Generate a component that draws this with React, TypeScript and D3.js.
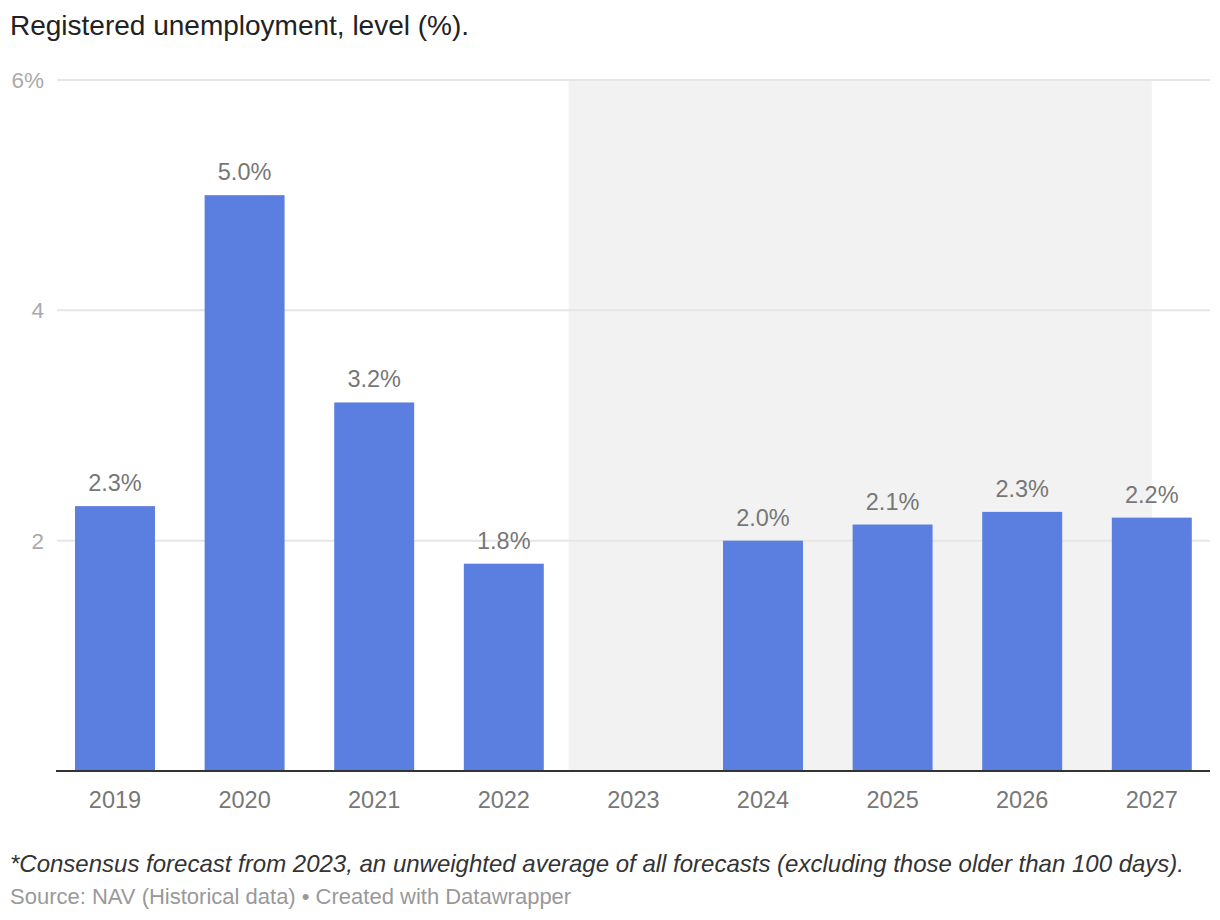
import React from "react";
import * as d3 from "d3";

const title = "Registered unemployment, level (%).";
const years = ["2019", "2020", "2021", "2022", "2023", "2024", "2025", "2026", "2027"];
const values: (number | null)[] = [2.3, 5.0, 3.2, 1.8, null, 2.0, 2.14, 2.25, 2.2];
const yTicks = [2, 4, 6];
const shadeStart = "2023";
const shadeEnd = "2027";
const footnote = "*Consensus forecast from 2023, an unweighted average of all forecasts (excluding those older than 100 days).";
const source = "Source: NAV (Historical data) • Created with Datawrapper";

const W = 1220;
const H = 920;
const FONT = "'Liberation Sans', Arial, Helvetica, sans-serif";

export default function App() {
  const x = d3
    .scaleBand<string>()
    .domain(years)
    .range([50.2, 1216.6])
    .paddingInner(0.383)
    .paddingOuter(0.1915);
  const y = d3.scaleLinear().domain([0, 6]).range([771, 80]);
  const bw = x.bandwidth();
  const step = x.step();
  const shadeX0 = (x(shadeStart) as number) + bw / 2 - step / 2;
  const shadeX1 = (x(shadeEnd) as number) + bw / 2;

  return (
    <svg
      width={W}
      height={H}
      viewBox={`0 0 ${W} ${H}`}
      style={{ position: "absolute", left: 0, top: 0, background: "#fff" }}
      fontFamily={FONT}
    >
      <rect x={0} y={0} width={W} height={H} fill="#fff" />
      <text x={10} y={35} fontSize={28} fill="#222">
        {title}
      </text>
      <rect x={shadeX0} y={y(6) + 1} width={shadeX1 - shadeX0} height={y(0) - y(6) - 1} fill="#f2f2f2" />
      {yTicks.map((t) => (
        <g key={t}>
          <line x1={57} x2={1210} y1={y(t)} y2={y(t)} stroke="#e6e6e6" strokeWidth={2} />
          <text x={44} y={y(t) + 8} textAnchor="end" fontSize={22.5} fill="#aaa">
            {t === 6 ? `${t}%` : t}
          </text>
        </g>
      ))}
      {years.map((yr, i) => {
        const v = values[i];
        const cx = (x(yr) as number) + bw / 2;
        return (
          <g key={yr}>
            {v !== null && (
              <>
                <rect x={x(yr)} y={y(v)} width={bw} height={y(0) - y(v)} fill="#5b7fe0" />
                <text x={cx} y={y(v) - 15} textAnchor="middle" fontSize={23.5} fill="#777">
                  {`${v.toFixed(1)}%`}
                </text>
              </>
            )}
            <text x={cx} y={808} textAnchor="middle" fontSize={23.5} fill="#777">
              {yr}
            </text>
          </g>
        );
      })}
      <line x1={56} x2={1210} y1={y(0)} y2={y(0)} stroke="#333" strokeWidth={2} />
      <text x={10} y={872} fontSize={24} fontStyle="italic" fill="#333">
        {footnote}
      </text>
      <text x={10} y={904} fontSize={22} fill="#999">
        {source}
      </text>
    </svg>
  );
}
